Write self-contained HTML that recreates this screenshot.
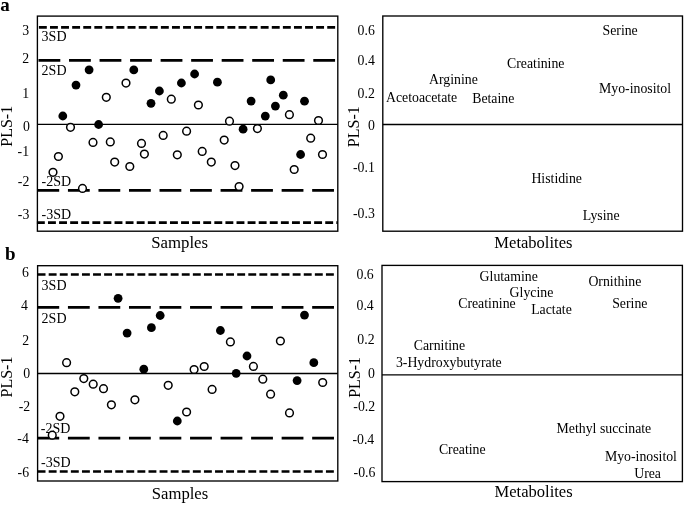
<!DOCTYPE html>
<html><head><meta charset="utf-8"><title>PLS-1 scores and loadings</title>
<style>html,body{margin:0;padding:0;background:#fff}svg{display:block}text{font-family:"Liberation Serif","Times New Roman",serif;fill:#000}</style></head><body>
<svg width="685" height="506" viewBox="0 0 685 506">
<rect width="685" height="506" fill="#fff"/>
<line x1="37.4" y1="124.3" x2="337.8" y2="124.3" stroke="#000" stroke-width="1.35"/>
<line x1="38.9" y1="27.45" x2="337.8" y2="27.45" stroke="#000" stroke-width="2.75" stroke-dasharray="7.9 3.19"/>
<line x1="38.5" y1="60.3" x2="336.8" y2="60.3" stroke="#000" stroke-width="2.75" stroke-dasharray="21.8 8.73"/>
<line x1="37.4" y1="190.3" x2="336.8" y2="190.3" stroke="#000" stroke-width="2.75" stroke-dasharray="21.8 8.73"/>
<line x1="36.9" y1="222.6" x2="337.8" y2="222.6" stroke="#000" stroke-width="2.75" stroke-dasharray="7.9 3.19"/>
<circle cx="62.8" cy="116" r="4.4" fill="#000"/>
<circle cx="76.0" cy="85.1" r="4.4" fill="#000"/>
<circle cx="89.1" cy="69.8" r="4.4" fill="#000"/>
<circle cx="98.6" cy="124.5" r="4.4" fill="#000"/>
<circle cx="133.8" cy="69.9" r="4.4" fill="#000"/>
<circle cx="151.0" cy="103.3" r="4.4" fill="#000"/>
<circle cx="159.4" cy="91" r="4.4" fill="#000"/>
<circle cx="181.4" cy="83" r="4.4" fill="#000"/>
<circle cx="194.6" cy="74" r="4.4" fill="#000"/>
<circle cx="217.4" cy="82.2" r="4.4" fill="#000"/>
<circle cx="243.1" cy="129.2" r="4.4" fill="#000"/>
<circle cx="251.1" cy="101.1" r="4.4" fill="#000"/>
<circle cx="265.3" cy="116.1" r="4.4" fill="#000"/>
<circle cx="270.7" cy="79.9" r="4.4" fill="#000"/>
<circle cx="275.4" cy="106.1" r="4.4" fill="#000"/>
<circle cx="283.3" cy="95.2" r="4.4" fill="#000"/>
<circle cx="300.6" cy="154.5" r="4.4" fill="#000"/>
<circle cx="304.5" cy="101.2" r="4.4" fill="#000"/>
<circle cx="53.0" cy="172.3" r="3.85" fill="#fff" stroke="#000" stroke-width="1.5"/>
<circle cx="58.4" cy="156.5" r="3.85" fill="#fff" stroke="#000" stroke-width="1.5"/>
<circle cx="70.5" cy="127.3" r="3.85" fill="#fff" stroke="#000" stroke-width="1.5"/>
<circle cx="82.5" cy="188.4" r="3.85" fill="#fff" stroke="#000" stroke-width="1.5"/>
<circle cx="93.0" cy="142.4" r="3.85" fill="#fff" stroke="#000" stroke-width="1.5"/>
<circle cx="106.3" cy="97.3" r="3.85" fill="#fff" stroke="#000" stroke-width="1.5"/>
<circle cx="110.3" cy="141.9" r="3.85" fill="#fff" stroke="#000" stroke-width="1.5"/>
<circle cx="114.7" cy="162.1" r="3.85" fill="#fff" stroke="#000" stroke-width="1.5"/>
<circle cx="126.0" cy="83.1" r="3.85" fill="#fff" stroke="#000" stroke-width="1.5"/>
<circle cx="129.8" cy="166.5" r="3.85" fill="#fff" stroke="#000" stroke-width="1.5"/>
<circle cx="141.5" cy="143.4" r="3.85" fill="#fff" stroke="#000" stroke-width="1.5"/>
<circle cx="144.4" cy="154.1" r="3.85" fill="#fff" stroke="#000" stroke-width="1.5"/>
<circle cx="163.2" cy="135.4" r="3.85" fill="#fff" stroke="#000" stroke-width="1.5"/>
<circle cx="171.3" cy="99.2" r="3.85" fill="#fff" stroke="#000" stroke-width="1.5"/>
<circle cx="177.3" cy="154.8" r="3.85" fill="#fff" stroke="#000" stroke-width="1.5"/>
<circle cx="186.6" cy="131.2" r="3.85" fill="#fff" stroke="#000" stroke-width="1.5"/>
<circle cx="198.4" cy="105" r="3.85" fill="#fff" stroke="#000" stroke-width="1.5"/>
<circle cx="202.2" cy="151.4" r="3.85" fill="#fff" stroke="#000" stroke-width="1.5"/>
<circle cx="211.3" cy="162.1" r="3.85" fill="#fff" stroke="#000" stroke-width="1.5"/>
<circle cx="224.2" cy="140.1" r="3.85" fill="#fff" stroke="#000" stroke-width="1.5"/>
<circle cx="229.5" cy="121.2" r="3.85" fill="#fff" stroke="#000" stroke-width="1.5"/>
<circle cx="235" cy="165.6" r="3.85" fill="#fff" stroke="#000" stroke-width="1.5"/>
<circle cx="239.1" cy="186.5" r="3.85" fill="#fff" stroke="#000" stroke-width="1.5"/>
<circle cx="257.4" cy="128.6" r="3.85" fill="#fff" stroke="#000" stroke-width="1.5"/>
<circle cx="289.4" cy="114.7" r="3.85" fill="#fff" stroke="#000" stroke-width="1.5"/>
<circle cx="294.2" cy="169.5" r="3.85" fill="#fff" stroke="#000" stroke-width="1.5"/>
<circle cx="310.7" cy="138.2" r="3.85" fill="#fff" stroke="#000" stroke-width="1.5"/>
<circle cx="318.5" cy="120.5" r="3.85" fill="#fff" stroke="#000" stroke-width="1.5"/>
<circle cx="322.5" cy="154.5" r="3.85" fill="#fff" stroke="#000" stroke-width="1.5"/>
<rect x="37.4" y="16.1" width="300.40" height="215.10" fill="none" stroke="#000" stroke-width="1.35"/>
<text x="41.6" y="41.0" font-size="14" text-anchor="start">3SD</text>
<text x="41.6" y="74.5" font-size="14" text-anchor="start">2SD</text>
<text x="41.6" y="185.9" font-size="14" text-anchor="start">-2SD</text>
<text x="41.6" y="218.6" font-size="14" text-anchor="start">-3SD</text>
<text x="29.2" y="35.1" font-size="13.8" text-anchor="end">3</text>
<text x="29.2" y="63.3" font-size="13.8" text-anchor="end">2</text>
<text x="29.2" y="97.8" font-size="13.8" text-anchor="end">1</text>
<text x="29.9" y="130.5" font-size="13.8" text-anchor="end">0</text>
<text x="29.1" y="156.0" font-size="13.8" text-anchor="end">-1</text>
<text x="29.3" y="186.2" font-size="13.8" text-anchor="end">-2</text>
<text x="29.3" y="218.5" font-size="13.8" text-anchor="end">-3</text>
<text transform="translate(11.9,126.3) rotate(-90)" font-size="16" text-anchor="middle">PLS-1</text>
<text x="179.6" y="248.3" font-size="16.8" text-anchor="middle">Samples</text>
<text x="0.3" y="10.9" font-size="19" text-anchor="start" font-weight="bold">a</text>
<line x1="382.8" y1="124.5" x2="682.5" y2="124.5" stroke="#000" stroke-width="1.35"/>
<rect x="382.8" y="16.0" width="299.70" height="215.20" fill="none" stroke="#000" stroke-width="1.35"/>
<text x="374.8" y="35.3" font-size="13.8" text-anchor="end">0.6</text>
<text x="374.8" y="65.1" font-size="13.8" text-anchor="end">0.4</text>
<text x="374.8" y="98.3" font-size="13.8" text-anchor="end">0.2</text>
<text x="374.8" y="130.4" font-size="13.8" text-anchor="end">0</text>
<text x="374.8" y="171.8" font-size="13.8" text-anchor="end">-0.1</text>
<text x="374.8" y="217.7" font-size="13.8" text-anchor="end">-0.3</text>
<text transform="translate(359.0,126.7) rotate(-90)" font-size="16" text-anchor="middle">PLS-1</text>
<text x="602.5" y="34.8" font-size="13.8" text-anchor="start">Serine</text>
<text x="507.0" y="67.7" font-size="13.8" text-anchor="start">Creatinine</text>
<text x="429.0" y="84.2" font-size="13.8" text-anchor="start">Arginine</text>
<text x="599.0" y="92.6" font-size="13.8" text-anchor="start">Myo-inositol</text>
<text x="386.0" y="101.9" font-size="13.8" text-anchor="start">Acetoacetate</text>
<text x="472.2" y="102.6" font-size="13.8" text-anchor="start">Betaine</text>
<text x="531.4" y="182.9" font-size="13.8" text-anchor="start">Histidine</text>
<text x="582.8" y="220.0" font-size="13.8" text-anchor="start">Lysine</text>
<text x="533.4" y="247.7" font-size="16.55" text-anchor="middle">Metabolites</text>
<line x1="37.6" y1="373.5" x2="337.8" y2="373.5" stroke="#000" stroke-width="1.35"/>
<line x1="37.6" y1="274.55" x2="335.3" y2="274.55" stroke="#000" stroke-width="2.6" stroke-dasharray="7.9 3.19"/>
<line x1="37.4" y1="307.35" x2="336.8" y2="307.35" stroke="#000" stroke-width="2.6" stroke-dasharray="21.8 8.73"/>
<line x1="37.4" y1="438.15" x2="336.8" y2="438.15" stroke="#000" stroke-width="2.6" stroke-dasharray="21.8 8.73"/>
<line x1="37.6" y1="471.45" x2="335.3" y2="471.45" stroke="#000" stroke-width="2.6" stroke-dasharray="7.9 3.19"/>
<text x="41.6" y="290.1" font-size="14" text-anchor="start">3SD</text>
<text x="41.6" y="323.4" font-size="14" text-anchor="start">2SD</text>
<text x="40.8" y="432.6" font-size="14" text-anchor="start">-2SD</text>
<text x="41.0" y="466.6" font-size="14" text-anchor="start">-3SD</text>
<circle cx="118.1" cy="298.3" r="4.4" fill="#000"/>
<circle cx="127.1" cy="333.1" r="4.4" fill="#000"/>
<circle cx="143.8" cy="369.2" r="4.4" fill="#000"/>
<circle cx="151.4" cy="327.7" r="4.4" fill="#000"/>
<circle cx="160.2" cy="315.5" r="4.4" fill="#000"/>
<circle cx="177.3" cy="421" r="4.4" fill="#000"/>
<circle cx="220.4" cy="330.5" r="4.4" fill="#000"/>
<circle cx="236.2" cy="373.3" r="4.4" fill="#000"/>
<circle cx="247.0" cy="356" r="4.4" fill="#000"/>
<circle cx="297.1" cy="380.6" r="4.4" fill="#000"/>
<circle cx="304.5" cy="315.1" r="4.4" fill="#000"/>
<circle cx="313.8" cy="362.7" r="4.4" fill="#000"/>
<circle cx="60.0" cy="416.3" r="3.85" fill="#fff" stroke="#000" stroke-width="1.5"/>
<circle cx="66.6" cy="362.7" r="3.85" fill="#fff" stroke="#000" stroke-width="1.5"/>
<circle cx="74.8" cy="391.8" r="3.85" fill="#fff" stroke="#000" stroke-width="1.5"/>
<circle cx="83.8" cy="378.6" r="3.85" fill="#fff" stroke="#000" stroke-width="1.5"/>
<circle cx="93.2" cy="384.2" r="3.85" fill="#fff" stroke="#000" stroke-width="1.5"/>
<circle cx="103.5" cy="388.7" r="3.85" fill="#fff" stroke="#000" stroke-width="1.5"/>
<circle cx="111.4" cy="404.8" r="3.85" fill="#fff" stroke="#000" stroke-width="1.5"/>
<circle cx="134.9" cy="399.8" r="3.85" fill="#fff" stroke="#000" stroke-width="1.5"/>
<circle cx="168.2" cy="385.3" r="3.85" fill="#fff" stroke="#000" stroke-width="1.5"/>
<circle cx="186.6" cy="412" r="3.85" fill="#fff" stroke="#000" stroke-width="1.5"/>
<circle cx="194.1" cy="369.5" r="3.85" fill="#fff" stroke="#000" stroke-width="1.5"/>
<circle cx="204.2" cy="366.5" r="3.85" fill="#fff" stroke="#000" stroke-width="1.5"/>
<circle cx="212.1" cy="389.4" r="3.85" fill="#fff" stroke="#000" stroke-width="1.5"/>
<circle cx="230.4" cy="341.9" r="3.85" fill="#fff" stroke="#000" stroke-width="1.5"/>
<circle cx="253.4" cy="366.4" r="3.85" fill="#fff" stroke="#000" stroke-width="1.5"/>
<circle cx="262.8" cy="379.2" r="3.85" fill="#fff" stroke="#000" stroke-width="1.5"/>
<circle cx="270.6" cy="394.2" r="3.85" fill="#fff" stroke="#000" stroke-width="1.5"/>
<circle cx="280.4" cy="341" r="3.85" fill="#fff" stroke="#000" stroke-width="1.5"/>
<circle cx="289.5" cy="412.9" r="3.85" fill="#fff" stroke="#000" stroke-width="1.5"/>
<circle cx="322.7" cy="382.5" r="3.85" fill="#fff" stroke="#000" stroke-width="1.5"/>
<circle cx="52.25" cy="435.2" r="3.85" fill="#fff" stroke="#000" stroke-width="1.5"/>
<rect x="37.6" y="265.7" width="300.20" height="215.30" fill="none" stroke="#000" stroke-width="1.35"/>
<text x="28.9" y="276.6" font-size="13.8" text-anchor="end">6</text>
<text x="28.0" y="310.2" font-size="13.8" text-anchor="end">4</text>
<text x="29.2" y="345.3" font-size="13.8" text-anchor="end">2</text>
<text x="30.1" y="378.4" font-size="13.8" text-anchor="end">0</text>
<text x="30.2" y="411.2" font-size="13.8" text-anchor="end">-2</text>
<text x="28.8" y="443.4" font-size="13.8" text-anchor="end">-4</text>
<text x="29.1" y="477.4" font-size="13.8" text-anchor="end">-6</text>
<text transform="translate(12.0,377.0) rotate(-90)" font-size="16" text-anchor="middle">PLS-1</text>
<text x="180.0" y="498.5" font-size="16.7" text-anchor="middle">Samples</text>
<text x="5.0" y="260.3" font-size="19" text-anchor="start" font-weight="bold">b</text>
<line x1="382.0" y1="374.9" x2="682.4" y2="374.9" stroke="#000" stroke-width="1.35"/>
<rect x="382.0" y="265.4" width="300.40" height="216.20" fill="none" stroke="#000" stroke-width="1.35"/>
<text x="373.75" y="278.7" font-size="13.8" text-anchor="end">0.6</text>
<text x="373.75" y="309.9" font-size="13.8" text-anchor="end">0.4</text>
<text x="374.55" y="343.6" font-size="13.8" text-anchor="end">0.2</text>
<text x="374.85" y="377.8" font-size="13.8" text-anchor="end">0</text>
<text x="375.15" y="410.6" font-size="13.8" text-anchor="end">-0.2</text>
<text x="374.25" y="443.6" font-size="13.8" text-anchor="end">-0.4</text>
<text x="375.45" y="477.0" font-size="13.8" text-anchor="end">-0.6</text>
<text transform="translate(359.8,377.4) rotate(-90)" font-size="16" text-anchor="middle">PLS-1</text>
<text x="479.6" y="280.6" font-size="13.8" text-anchor="start">Glutamine</text>
<text x="588.4" y="285.7" font-size="13.8" text-anchor="start">Ornithine</text>
<text x="509.6" y="296.9" font-size="13.8" text-anchor="start">Glycine</text>
<text x="458.2" y="307.8" font-size="13.8" text-anchor="start">Creatinine</text>
<text x="612.2" y="307.9" font-size="13.8" text-anchor="start">Serine</text>
<text x="531.2" y="313.8" font-size="13.8" text-anchor="start">Lactate</text>
<text x="413.8" y="350.0" font-size="13.8" text-anchor="start">Carnitine</text>
<text x="395.9" y="367.2" font-size="13.8" text-anchor="start">3-Hydroxybutyrate</text>
<text x="556.6" y="432.9" font-size="13.8" text-anchor="start">Methyl succinate</text>
<text x="438.9" y="454.1" font-size="13.8" text-anchor="start">Creatine</text>
<text x="604.9" y="461.1" font-size="13.8" text-anchor="start">Myo-inositol</text>
<text x="634.2" y="477.8" font-size="13.8" text-anchor="start">Urea</text>
<text x="533.6" y="497.3" font-size="16.55" text-anchor="middle">Metabolites</text>
</svg></body></html>
